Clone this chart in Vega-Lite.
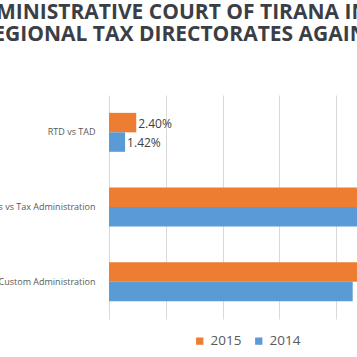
{
  "$schema": "https://vega.github.io/schema/vega-lite/v6.json",
  "autosize": {"type": "none"},
  "width": 248,
  "height": 224,
  "padding": {"left": 109, "top": 95, "right": 0, "bottom": 38},
  "background": "white",
  "title": {
    "text": ["ADMINISTRATIVE COURT OF TIRANA IN 2014 AND 2015", "REGIONAL TAX DIRECTORATES AGAINST TAXPAYERS"],
    "anchor": "middle",
    "align": "center",
    "frame": "group",
    "dx": 14,
    "offset": 50,
    "font": "Open Sans",
    "fontSize": 21,
    "fontWeight": "bold",
    "color": "#3b3e45",
    "lineHeight": 22
  },
  "data": {
    "values": [
      {"cat": "RTD vs TAD", "year": "2015", "value": 0.024},
      {"cat": "RTD vs TAD", "year": "2014", "value": 0.0142},
      {"cat": "Taxpayers vs Tax Administration", "year": "2015", "value": 0.62},
      {"cat": "Taxpayers vs Tax Administration", "year": "2014", "value": 0.64},
      {"cat": "Taxpayers vs Custom Administration", "year": "2015", "value": 0.35},
      {"cat": "Taxpayers vs Custom Administration", "year": "2014", "value": 0.2147}
    ]
  },
  "encoding": {
    "y": {
      "field": "cat",
      "type": "nominal",
      "sort": null,
      "scale": {"paddingInner": 0.478, "paddingOuter": 0.239},
      "axis": {
        "title": null,
        "domain": false,
        "ticks": false,
        "labelPadding": 14,
        "labelLimit": 0,
        "labelFont": "Open Sans",
        "labelFontSize": 9,
        "labelColor": "#595959"
      }
    },
    "yOffset": {"field": "year", "type": "nominal", "sort": ["2015", "2014"]},
    "x": {
      "field": "value",
      "type": "quantitative",
      "scale": {"domain": [0, 0.2185], "nice": false, "zero": true},
      "axis": {
        "title": null,
        "values": [0, 0.05, 0.1, 0.15, 0.2],
        "labels": false,
        "ticks": false,
        "domain": false,
        "grid": true,
        "gridColor": "#d9d9d9",
        "gridWidth": 1
      }
    }
  },
  "layer": [
    {
      "mark": {"type": "bar", "clip": true},
      "encoding": {
        "color": {
          "field": "year",
          "type": "nominal",
          "sort": ["2015", "2014"],
          "scale": {"domain": ["2015", "2014"], "range": ["#ED7D31", "#5B9BD5"]},
          "legend": {
            "orient": "none",
            "legendX": 84,
            "legendY": 239,
            "direction": "horizontal",
            "title": null,
            "symbolType": "square",
            "symbolSize": 53,
            "symbolStrokeWidth": 0,
            "labelFont": "Open Sans",
            "labelFontSize": 13.5,
            "labelColor": "#595959",
            "columnPadding": 10,
            "labelOffset": 4
          }
        }
      }
    },
    {
      "transform": [{"filter": "datum.value < 0.2"}],
      "mark": {"type": "text", "align": "left", "baseline": "middle", "dx": 2, "dy": 1, "font": "Open Sans", "fontSize": 12, "color": "#404040", "clip": true},
      "encoding": {
        "text": {"field": "value", "type": "quantitative", "format": ".2%"}
      }
    }
  ],
  "config": {"view": {"stroke": null}}
}
